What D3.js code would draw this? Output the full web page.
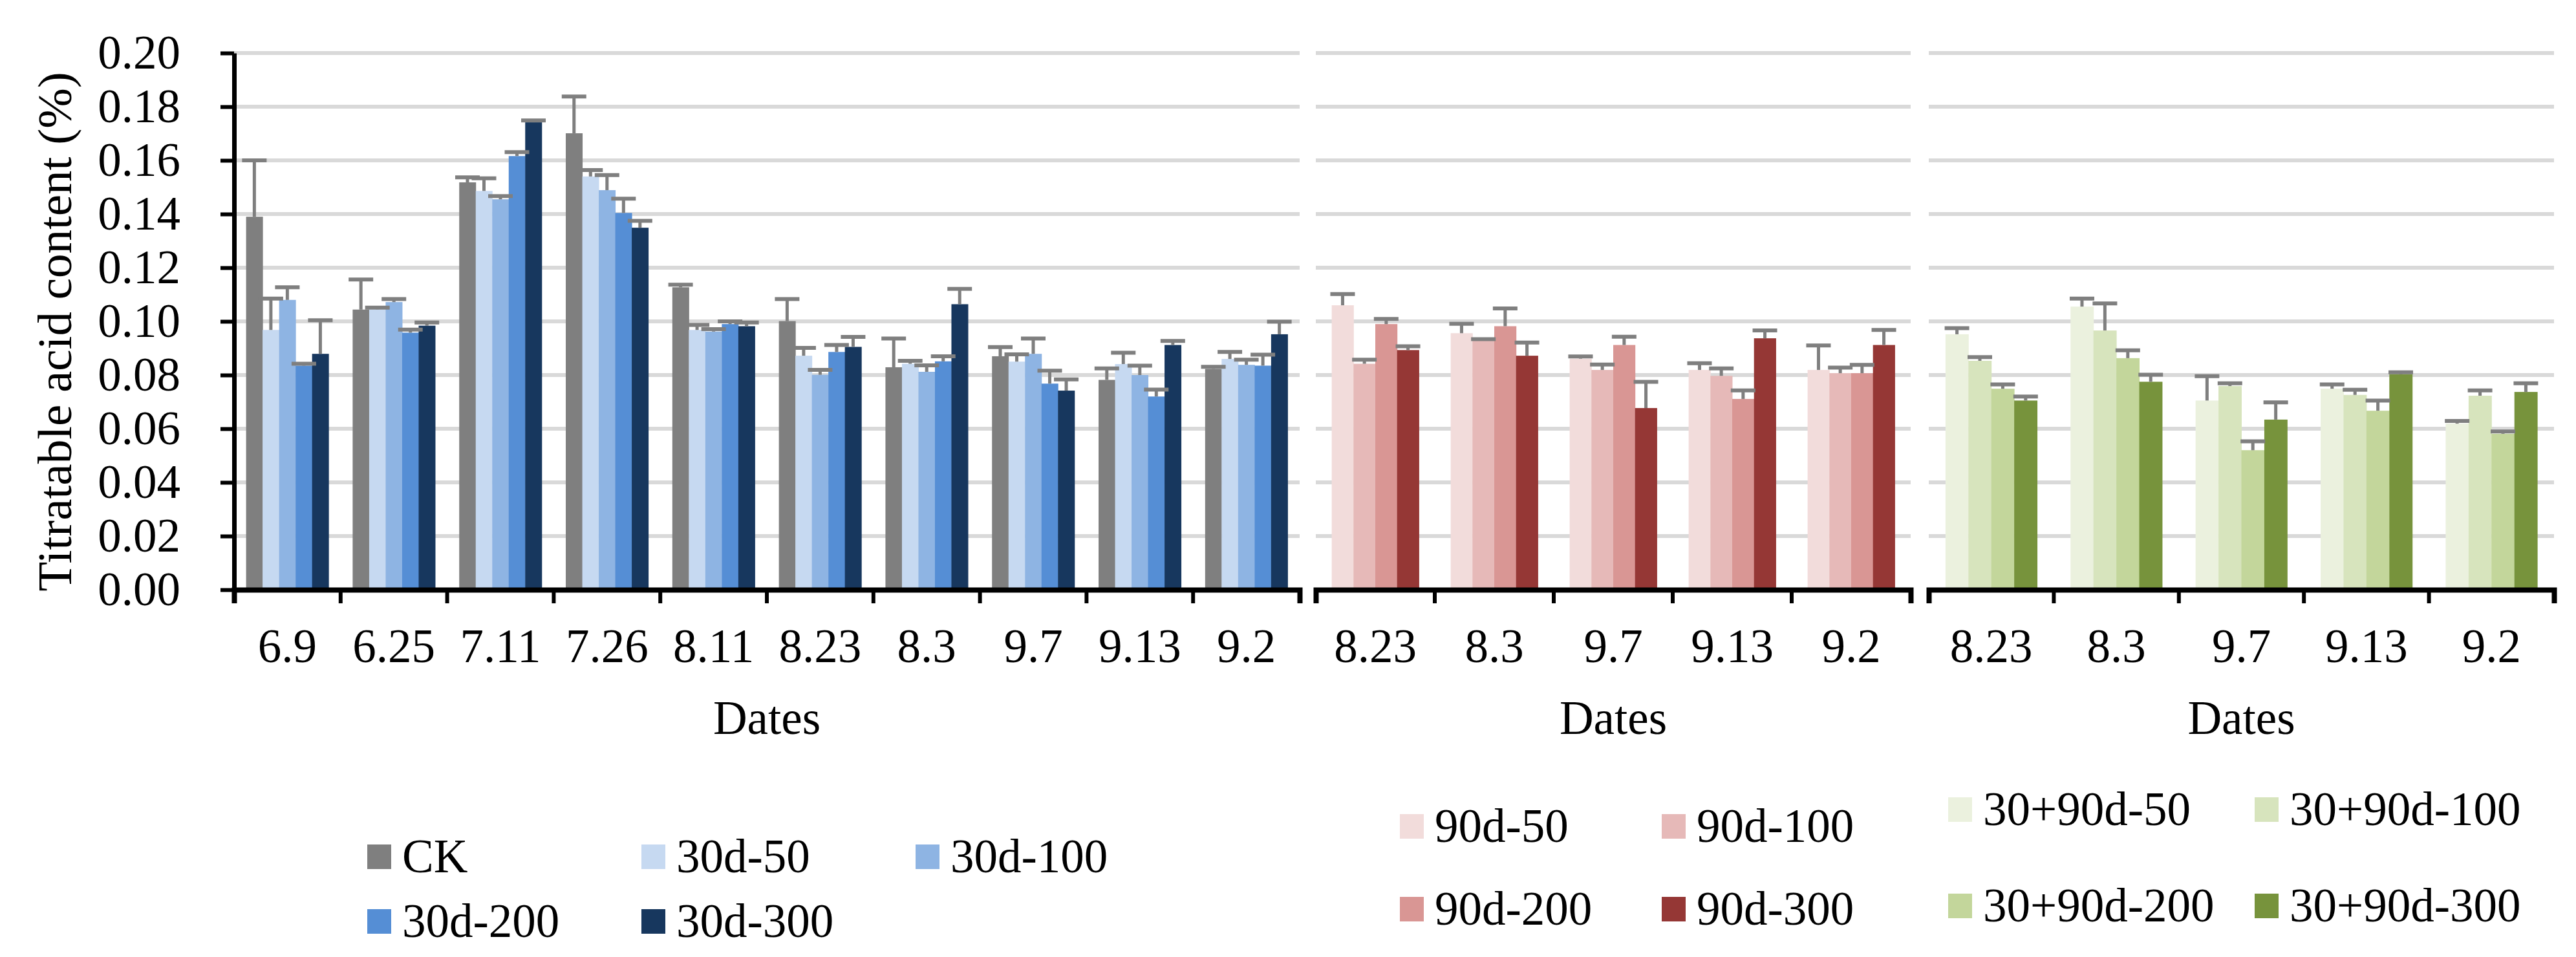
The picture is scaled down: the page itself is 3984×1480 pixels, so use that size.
<!DOCTYPE html>
<html>
<head>
<meta charset="utf-8">
<script src="https://cdn.jsdelivr.net/npm/d3@7"></script>
<style>
  body { margin: 0; background: #fff; }
  svg text { font-family: "Liberation Serif", "Times New Roman", serif; }
</style>
</head>
<body>
<div id="chart"></div>
<script>
// dates on each x axis
const dates1 = ["6.9","6.25","7.11","7.26","8.11","8.23","8.3","9.7","9.13","9.2"];
const dates2 = ["8.23","8.3","9.7","9.13","9.2"];

// series names
const series1 = ["CK","30d-50","30d-100","30d-200","30d-300"];
const series2 = ["90d-50","90d-100","90d-200","90d-300"];
const series3 = ["30+90d-50","30+90d-100","30+90d-200","30+90d-300"];

// means (one row per series)
const vals1 = [
  [0.139, 0.1044, 0.1518, 0.1701, 0.1127, 0.1001, 0.0829, 0.087, 0.0782, 0.0823],
  [0.0968, 0.1045, 0.1486, 0.154, 0.0968, 0.0872, 0.0842, 0.085, 0.0841, 0.086],
  [0.108, 0.1072, 0.1455, 0.1489, 0.0962, 0.0801, 0.0812, 0.0879, 0.080, 0.0838],
  [0.0835, 0.0958, 0.1616, 0.1404, 0.099, 0.0886, 0.0851, 0.0768, 0.072, 0.0835],
  [0.0879, 0.0984, 0.1742, 0.1349, 0.0982, 0.0905, 0.1064, 0.0742, 0.0912, 0.0952]
];
const errs1 = [
  [0.021, 0.0112, 0.0019, 0.0137, 0.001, 0.0082, 0.0107, 0.0034, 0.0043, 0.0008],
  [0.0117, 0.0006, 0.0047, 0.0024, 0.0019, 0.0029, 0.0011, 0.0027, 0.0042, 0.0026],
  [0.0047, 0.0011, 0.0012, 0.0056, 0.0009, 0.0018, 0.0024, 0.0057, 0.0035, 0.0019],
  [0.0007, 0.0011, 0.0015, 0.0053, 0.001, 0.0026, 0.0019, 0.0048, 0.0026, 0.0041],
  [0.0125, 0.0012, 0.0007, 0.0026, 0.0014, 0.0037, 0.0057, 0.0042, 0.0015, 0.0047]
];
const vals2 = [
  [0.106, 0.0956, 0.0861, 0.0819, 0.0819],
  [0.0842, 0.0931, 0.0819, 0.0797, 0.0807],
  [0.099, 0.0982, 0.0912, 0.0711, 0.0807],
  [0.0893, 0.0872, 0.0677, 0.0937, 0.0912]
];
const errs2 = [
  [0.0042, 0.0035, 0.0008, 0.0025, 0.0091],
  [0.0015, 0.0003, 0.002, 0.0028, 0.0021],
  [0.0019, 0.0066, 0.0031, 0.0032, 0.0031],
  [0.0014, 0.0049, 0.0098, 0.0029, 0.0056]
];
const vals3 = [
  [0.0952, 0.1055, 0.0705, 0.0749, 0.0619],
  [0.0853, 0.0966, 0.0759, 0.0726, 0.0723],
  [0.0749, 0.0863, 0.052, 0.0667, 0.0581],
  [0.0705, 0.0775, 0.0634, 0.0803, 0.0737]
];
const errs3 = [
  [0.0023, 0.003, 0.0091, 0.0016, 0.001],
  [0.0014, 0.0101, 0.001, 0.0019, 0.002],
  [0.0016, 0.0029, 0.0033, 0.0038, 0.0009],
  [0.0015, 0.0026, 0.0064, 0.0007, 0.0032]
];

const colors1 = ["#7f7f7f","#c6d9f1","#8eb4e3","#558ed5","#17375e"];
const colors2 = ["#f2dcdb","#e6b9b8","#d99694","#953735"];
const colors3 = ["#ebf1de","#d7e4bd","#c3d69b","#77933c"];

const W = 3984, H = 1480, FS = 73;
const gapRatio = 1.46; // gap between groups, in bar widths

const svg = d3.select("#chart").append("svg")
    .attr("width", W)
    .attr("height", H);

const y = d3.scaleLinear().domain([0, 0.2]).range([912, 82]);

const panels = [
  {dates: dates1, series: series1, vals: vals1, errs: errs1, colors: colors1,
   x0: 362, x1: 2010, yAxis: true, leg: {x: 568, y: 1306, cols: 3, dx: 424, dy: 100}},
  {dates: dates2, series: series2, vals: vals2, errs: errs2, colors: colors2,
   x0: 2035, x1: 2955, yAxis: false, leg: {x: 2165, y: 1259, cols: 2, dx: 405, dy: 128}},
  {dates: dates2, series: series3, vals: vals3, errs: errs3, colors: colors3,
   x0: 2983, x1: 3950, yAxis: false, leg: {x: 3013, y: 1233, cols: 2, dx: 474, dy: 149}}
];

panels.forEach(drawPanel);

// y title
svg.append("text")
    .attr("transform", "translate(110,513) rotate(-90)")
    .attr("text-anchor", "middle")
    .style("font-size", "75px")
    .text("Titratable acid content (%)");

function drawPanel(p){
    const g = svg.append("g");
    const x = d3.scaleBand().domain(p.dates).range([p.x0, p.x1]).padding(0);
    const step = x.step();
    const n = p.series.length;
    const gp = gapRatio/(n+gapRatio);
    const off = step*gp/2;
    const xs = d3.scaleBand().domain(p.series).range([0, step*(1-gp)]).padding(0);

    // gridlines
    g.append("g").selectAll("line")
        .data(y.ticks(10))
        .join("line")
        .attr("x1", p.x0).attr("x2", p.x1)
        .attr("y1", d=>y(d)).attr("y2", d=>y(d))
        .attr("stroke", "#d9d9d9")
        .attr("stroke-width", 6);

    const rows = p.series.flatMap((s,i)=>p.dates.map((d,j)=>({
        s: s, d: d, v: p.vals[i][j], e: p.errs[i][j], c: p.colors[i]
    })));
    const cx = r=>x(r.d)+off+xs(r.s)+xs.bandwidth()/2;

    g.append("g").selectAll("rect")
        .data(rows)
        .join("rect")
        .attr("x", r=>x(r.d)+off+xs(r.s))
        .attr("width", xs.bandwidth()+0.5)
        .attr("y", r=>y(r.v))
        .attr("height", r=>y(0)-y(r.v))
        .attr("fill", r=>r.c);

    // error bars (plus only)
    const eb = g.append("g").attr("stroke", "#7f7f7f");
    eb.selectAll("line.v")
        .data(rows)
        .join("line")
        .attr("class", "v")
        .attr("x1", cx).attr("x2", cx)
        .attr("y1", r=>y(r.v)).attr("y2", r=>y(r.v+r.e))
        .attr("stroke-width", 5);
    eb.selectAll("line.cap")
        .data(rows)
        .join("line")
        .attr("class", "cap")
        .attr("x1", r=>cx(r)-19).attr("x2", r=>cx(r)+19)
        .attr("y1", r=>y(r.v+r.e)).attr("y2", r=>y(r.v+r.e))
        .attr("stroke-width", 6);

    // x axis
    const ax = g.append("g")
        .attr("transform", `translate(0,${y(0)})`)
        .call(d3.axisBottom(x).tickSize(0).tickSizeOuter(21).tickPadding(60));
    ax.attr("font-family", null).attr("font-size", null);
    ax.select(".domain").attr("stroke", "#000").attr("stroke-width", 8);
    ax.selectAll("text").style("font-size", FS + "px").attr("fill", "#000");
    ax.selectAll(".bound")
        .data(p.dates.slice(1))
        .join("line")
        .attr("class", "bound")
        .attr("x1", d=>x(d)).attr("x2", d=>x(d))
        .attr("y1", 0).attr("y2", 21)
        .attr("stroke", "#000")
        .attr("stroke-width", 6);

    g.append("text")
        .attr("x", (p.x0+p.x1)/2)
        .attr("y", 1135)
        .attr("text-anchor", "middle")
        .style("font-size", FS + "px")
        .text("Dates");

    if(p.yAxis){
        const ay = g.append("g")
            .attr("transform", `translate(${p.x0},0)`)
            .call(d3.axisLeft(y).ticks(10).tickFormat(d3.format(".2f"))
                .tickSize(21).tickSizeOuter(0).tickPadding(62));
        ay.attr("font-family", null).attr("font-size", null);
        ay.select(".domain").attr("stroke", "#000").attr("stroke-width", 7);
        ay.selectAll(".tick line").attr("stroke", "#000").attr("stroke-width", 6);
        ay.selectAll("text").style("font-size", FS + "px").attr("fill", "#000");
    }

    // legend
    const L = p.leg;
    const lg = g.append("g").selectAll("g")
        .data(p.series)
        .join("g")
        .attr("transform", (d,i)=>`translate(${L.x + (i%L.cols)*L.dx},${L.y + Math.floor(i/L.cols)*L.dy})`);
    lg.append("rect")
        .attr("width", 37).attr("height", 38)
        .attr("fill", (d,i)=>p.colors[i]);
    lg.append("text")
        .attr("x", 54).attr("y", 43)
        .style("font-size", FS + "px")
        .text(d=>d);
}
</script>
</body>
</html>
